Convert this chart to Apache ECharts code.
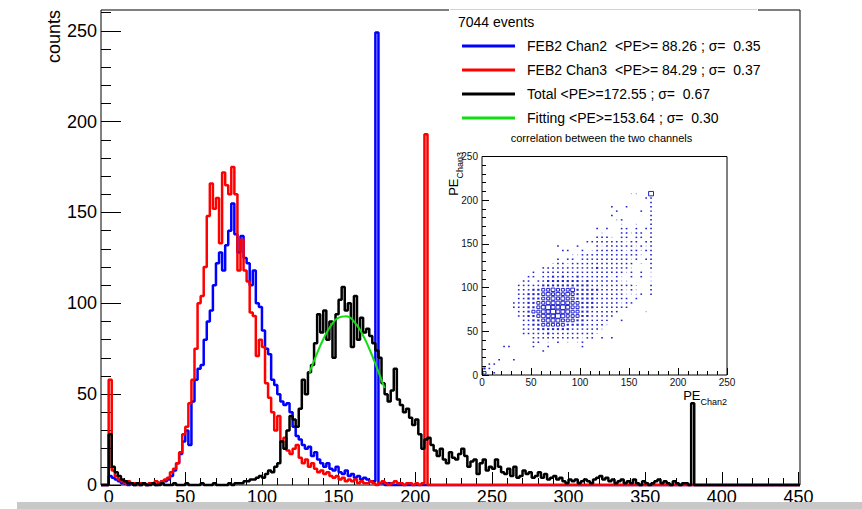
<!DOCTYPE html>
<html>
<head>
<meta charset="utf-8">
<script src="https://cdn.jsdelivr.net/npm/echarts@6/dist/echarts.min.js"></script>
<style>
  html, body { margin: 0; padding: 0; background: #fff; }
  #chart { width: 862px; height: 509px; }
</style>
</head>
<body>
<div id="chart"></div>
<script>
// ---- photo-electron spectra, bins of width 2 starting at PE = 0 ----
const binStart = 0;
const binWidth = 2;

// FEB2 channel 2
const chan2 = [
  5, 4, 3, 2, 1, 1, 0, 1, 0, 1,
  0, 1, 0, 1, 1, 0, 1, 2, 2, 3,
  5, 8, 12, 17, 24, 30, 22, 46, 58, 64,
  66, 80, 90, 96, 110, 122, 128, 118, 132, 140,
  155, 138, 128, 137, 125, 122, 110, 118, 100, 98,
  85, 75, 72, 58, 55, 50, 46, 44, 45, 40,
  32, 27, 25, 22, 20, 21, 16, 18, 14, 12,
  10, 12, 9, 8, 10, 7, 6, 8, 5, 6,
  4, 5, 3, 4, 3, 2, 2, 249, 1, 1,
  0, 1
];

// FEB2 channel 3
const chan3 = [
  58, 8, 5, 3, 2, 1, 2, 1, 1, 0,
  1, 1, 0, 1, 1, 2, 1, 2, 3, 4,
  7, 9, 12, 18, 28, 32, 45, 58, 75, 100,
  104, 120, 148, 166, 152, 158, 133, 172, 165, 160,
  175, 160, 118, 135, 118, 112, 95, 93, 71, 80,
  76, 56, 48, 40, 30, 38, 24, 26, 19, 17,
  20, 22, 15, 12, 14, 10, 12, 9, 7, 8,
  6, 7, 5, 4, 5, 3, 4, 2, 3, 2,
  3, 1, 2, 1, 1, 2, 1, 0, 1, 2,
  1, 0, 1, 2, 1, 1, 0, 1, 1, 0,
  1, 0, 1, 193
];

// sum of both channels
const total = [
  28, 10, 7, 5, 3, 2, 1, 1, 0, 1,
  0, 1, 0, 0, 1, 0, 0, 1, 0, 0,
  0, 1, 0, 0, 0, 1, 0, 0, 0, 0,
  1, 0, 0, 0, 1, 0, 0, 0, 0, 1,
  0, 1, 1, 1, 2, 2, 3, 3, 4, 5,
  4, 6, 8, 7, 10, 12, 24, 20, 30, 38,
  36, 32, 42, 58, 50, 62, 66, 78, 94, 84,
  96, 80, 90, 70, 94, 102, 109, 96, 100, 76,
  104, 80, 92, 84, 86, 82, 78, 74, 70, 56,
  50, 46, 52, 64, 47, 44, 40, 42, 37, 33,
  36, 28, 20, 25, 26, 22, 19, 16, 20, 14,
  12, 18, 15, 14, 17, 20, 16, 10, 13, 14,
  6, 12, 14, 8, 10, 9, 14, 10, 7, 6,
  9, 5, 10, 4, 5, 8, 6, 7, 4, 5,
  7, 4, 6, 3, 4, 5, 3, 4, 2, 1,
  3, 2, 3, 1, 2, 3, 2, 1, 3, 4,
  5, 3, 4, 2, 3, 1, 2, 3, 1, 2,
  1, 3, 1, 0, 2, 1, 0, 1, 2, 3,
  1, 2, 1, 0, 2, 1, 0, 1, 1, 0,
  45
];

// gaussian fit of the summed peak
const fitX = [131, 135, 140, 145, 150, 155, 160, 165, 170, 175, 180];
const fitY = [61.8, 70.5, 80.2, 87.7, 92.1, 92.9, 90.0, 83.8, 75.0, 64.5, 53.3];

// correlation map: 5x5 PE cells, box-size class per cell (0 = empty)
// first string is the top row (PE_Chan3 205-210), last is the bottom row (0-5)
const corrBin = 5;
const corrRows = [
  "00000 00000 00000 00000 00000 00000 11006",
  "00000 00000 00000 00000 00000 00000 00022",
  "00000 00000 00000 00000 00000 00000 00002",
  "00000 00000 00000 00000 00000 02002 00002",
  "00000 00000 00000 00000 00000 00200 00202",
  "00000 00000 00000 00000 00000 02000 00002",
  "00000 00000 00000 00000 00000 00120 00002",
  "00000 00000 00000 00000 00000 00010 01002",
  "00000 00000 00000 00000 00020 20022 02022",
  "00000 00000 00000 00000 00001 00022 12202",
  "00000 00000 00000 00000 00022 21022 02202",
  "00000 00000 00000 00000 02222 22221 22022",
  "00000 00000 00000 20002 00021 22222 21212",
  "00000 00000 00000 02200 20122 22221 22122",
  "00000 00000 00000 00011 22222 22222 22102",
  "00000 00000 00000 20220 22222 22222 12022",
  "00000 00000 00001 22122 22222 22222 20102",
  "00000 00000 00222 22222 22232 22222 10002",
  "00000 00000 20222 22222 22222 22221 20201",
  "00000 00002 20223 23223 22222 21210 20201",
  "00000 00022 02233 33333 23222 22211 00001",
  "00000 00222 22333 33333 33222 22222 21002",
  "00000 00222 33445 44453 33332 22221 21002",
  "00000 00223 33454 54543 33322 22221 11202",
  "00000 00223 33445 45443 33322 22222 02000",
  "00000 02223 34455 55544 33322 22212 20000",
  "00000 02223 34565 56544 33322 22222 00000",
  "00000 00223 44556 55544 33222 22200 00010",
  "00000 00223 34555 65444 33222 22000 00000",
  "00000 00022 33455 54443 32222 20020 00000",
  "00000 00022 33444 44333 32222 10000 00000",
  "00000 00022 23333 33322 22221 00000 00000",
  "00000 00022 22232 22222 22210 00000 00000",
  "00000 00000 22222 22222 12202 02000 00000",
  "00000 00000 22010 20101 20000 00000 00000",
  "00002 20000 20020 00000 20000 00000 00000",
  "00000 00000 00200 00000 00000 00000 00000",
  "00000 00000 00000 00000 00000 00000 00000",
  "00020 02000 00000 00000 00000 00000 00000",
  "02200 00000 00000 00000 00000 00000 00000",
  "32000 00000 00000 00000 00000 00000 00000",
  "40200 00000 00000 00000 00000 00000 00000"
];

// axis ranges and tick positions
const xMin = -5, xMax = 451;
const xMajor = [0, 50, 100, 150, 200, 250, 300, 350, 400, 450];
const yMajor = [0, 50, 100, 150, 200, 250];
const xMinor = [];
for (let v = 0; v <= 450; v += 10) xMinor.push(v);
const yMinor = [];
for (let v = 0; v <= 260; v += 10) yMinor.push(v);

// legend entries
const name2 = 'FEB2 Chan2\u00a0 <PE>= 88.26 ; \u03c3=\u00a0 0.35';
const name3 = 'FEB2 Chan3\u00a0 <PE>= 84.29 ; \u03c3=\u00a0 0.37';
const nameT = 'Total <PE>=172.55 ; \u03c3=\u00a0 0.67';
const nameF = 'Fitting <PE>=153.64 ; \u03c3=\u00a0 0.30';

const FONT = '"Liberation Sans", Arial, Helvetica, sans-serif';
const BOX = '#2222cc';
const BOX_FAINT = '#a0a0e8';
const boxFrac = [0, 0.24, 0.34, 0.46, 0.62, 0.78, 1.0];

// histogram outline: points at bin low edges, drawn as a step line
function stepData(vals) {
  const pts = [[xMin, 0]];
  vals.forEach((v, k) => pts.push([binStart + k * binWidth, v]));
  pts.push([binStart + vals.length * binWidth, 0]);
  pts.push([xMax, 0]);
  return pts;
}

const yMax = 1.05 * Math.max(...chan2, ...chan3, ...total);

const corrCells = [];
corrRows.forEach((row, r) => {
  const cells = row.replace(/ /g, '');
  const j = corrRows.length - 1 - r;
  for (let i = 0; i < cells.length; i++) {
    const lv = +cells[i];
    if (lv > 0) corrCells.push([i * corrBin, j * corrBin, lv]);
  }
});

const histLine = (name, vals, color, z) => ({
  type: 'line', name, data: stepData(vals), step: 'end',
  xAxisIndex: 0, yAxisIndex: 0, showSymbol: false, symbol: 'none',
  clip: false, z,
  lineStyle: { color, width: 2.5 }, itemStyle: { color }
});

const chart = echarts.init(document.getElementById('chart'), null, { renderer: 'svg' });

const noLine = { show: false, onZero: false };
const mainTick = (customValues, length) => ({
  show: true, inside: true, length, customValues,
  lineStyle: { color: '#000', width: 1 }
});

chart.setOption({
  animation: false,
  backgroundColor: '#fff',
  grid: [
    { left: 101, top: 10, width: 699, height: 475, show: true, borderColor: '#000', borderWidth: 1,
      backgroundColor: 'transparent', containLabel: false, outerBoundsMode: 'none' },
    { left: 482, top: 156.5, width: 245, height: 218.5, show: true, borderColor: '#000', borderWidth: 1,
      backgroundColor: 'transparent', containLabel: false, outerBoundsMode: 'none', z: 10 }
  ],
  xAxis: [
    { gridIndex: 0, type: 'value', position: 'bottom', min: xMin, max: xMax,
      axisLine: noLine, splitLine: { show: false },
      axisTick: mainTick(xMajor, 13),
      axisLabel: { customValues: xMajor, margin: 3, fontSize: 18, color: '#000', fontFamily: FONT } },
    { gridIndex: 0, type: 'value', position: 'bottom', min: xMin, max: xMax,
      axisLine: noLine, splitLine: { show: false },
      axisTick: mainTick(xMinor, 7), axisLabel: { show: false } },
    { gridIndex: 1, type: 'value', position: 'bottom', min: 0, max: 250, interval: 50, z: 10,
      axisLine: noLine, splitLine: { show: false },
      axisTick: { show: true, inside: true, length: 7, lineStyle: { color: '#000' } },
      minorTick: { show: true, splitNumber: 5, length: 4, lineStyle: { color: '#000' } },
      axisLabel: { margin: 2, fontSize: 10, color: '#111', fontFamily: FONT } }
  ],
  yAxis: [
    { gridIndex: 0, type: 'value', position: 'left', min: 0, max: yMax,
      axisLine: noLine, splitLine: { show: false },
      axisTick: mainTick(yMajor, 20),
      axisLabel: { customValues: yMajor, margin: 4, fontSize: 18, color: '#000', fontFamily: FONT } },
    { gridIndex: 0, type: 'value', position: 'left', min: 0, max: yMax,
      axisLine: noLine, splitLine: { show: false },
      axisTick: mainTick(yMinor, 10), axisLabel: { show: false } },
    { gridIndex: 1, type: 'value', position: 'left', min: 0, max: 250, interval: 50, z: 10,
      axisLine: noLine, splitLine: { show: false },
      axisTick: { show: true, inside: true, length: 7, lineStyle: { color: '#000' } },
      minorTick: { show: true, splitNumber: 5, length: 4, lineStyle: { color: '#000' } },
      axisLabel: { margin: 4, fontSize: 10, color: '#111', fontFamily: FONT } }
  ],
  legend: {
    data: [name2, name3, nameT, nameF],
    orient: 'vertical', left: 462, top: 39, padding: 0,
    itemWidth: 53, itemHeight: 3, itemGap: 10, icon: 'rect',
    selectedMode: false, z: 20,
    textStyle: { fontSize: 14, color: '#000', fontFamily: FONT, padding: [0, 0, 0, 7] }
  },
  series: [
    histLine(name2, chan2, '#0000ff', 2),
    histLine(name3, chan3, '#ff0000', 3),
    histLine(nameT, total, '#000000', 4),
    { type: 'line', name: nameF, xAxisIndex: 0, yAxisIndex: 0, smooth: true,
      showSymbol: false, symbol: 'none', z: 5,
      data: fitX.map((x, k) => [x, fitY[k]]),
      lineStyle: { color: '#11dd11', width: 2 }, itemStyle: { color: '#11dd11' } },
    { type: 'custom', xAxisIndex: 2, yAxisIndex: 2, z: 10, data: corrCells,
      renderItem: (params, api) => {
        const x0 = api.value(0), y0 = api.value(1), lv = api.value(2);
        const c = api.coord([x0 + corrBin / 2, y0 + corrBin / 2]);
        const s = api.size([corrBin, corrBin]);
        const w = s[0] * boxFrac[lv], h = s[1] * boxFrac[lv];
        const style = lv >= 4
          ? { fill: 'none', stroke: BOX, lineWidth: 1 }
          : { fill: lv === 1 ? BOX_FAINT : BOX };
        return { type: 'rect', shape: { x: c[0] - w / 2, y: c[1] - h / 2, width: w, height: h }, style };
      } }
  ],
  graphic: [
    { type: 'rect', z: 20, shape: { x: 449, y: 8, width: 309, height: 4 }, style: { fill: '#fff' } },
    { type: 'line', z: 21, shape: { x1: 450, y1: 9.5, x2: 757, y2: 9.5 }, style: { stroke: '#d4d4d4', lineWidth: 1 } },
    { type: 'text', z: 21, x: 458, y: 21.5,
      style: { text: '7044 events', font: '14px ' + FONT, fill: '#000', align: 'left', verticalAlign: 'middle' } },
    { type: 'text', z: 21, x: 601.5, y: 138,
      style: { text: 'correlation between the two channels', font: '11px ' + FONT, fill: '#000', align: 'center', verticalAlign: 'middle' } },
    { type: 'text', z: 21, x: 54, y: 10, rotation: Math.PI / 2,
      style: { text: 'counts', font: '18px ' + FONT, fill: '#000', align: 'right', verticalAlign: 'middle' } },
    { type: 'text', z: 21, x: 447, y: 152, rotation: Math.PI / 2,
      style: { text: '{a|PE}{b|Chan3}', align: 'right', verticalAlign: 'top', fill: '#000',
        rich: { a: { fontSize: 13, fontFamily: FONT, verticalAlign: 'top', lineHeight: 17 },
                b: { fontSize: 9, fontFamily: FONT, verticalAlign: 'bottom', lineHeight: 17 } } } },
    { type: 'text', z: 21, x: 727, y: 406,
      style: { text: '{a|PE}{b|Chan2}', align: 'right', verticalAlign: 'bottom', fill: '#000',
        rich: { a: { fontSize: 13, fontFamily: FONT, verticalAlign: 'top', lineHeight: 17 },
                b: { fontSize: 9, fontFamily: FONT, verticalAlign: 'bottom', lineHeight: 17 } } } },
    { type: 'rect', z: 30, shape: { x: 17, y: 502, width: 845, height: 7 }, style: { fill: '#c8c8c8' } }
  ]
});
</script>
</body>
</html>
